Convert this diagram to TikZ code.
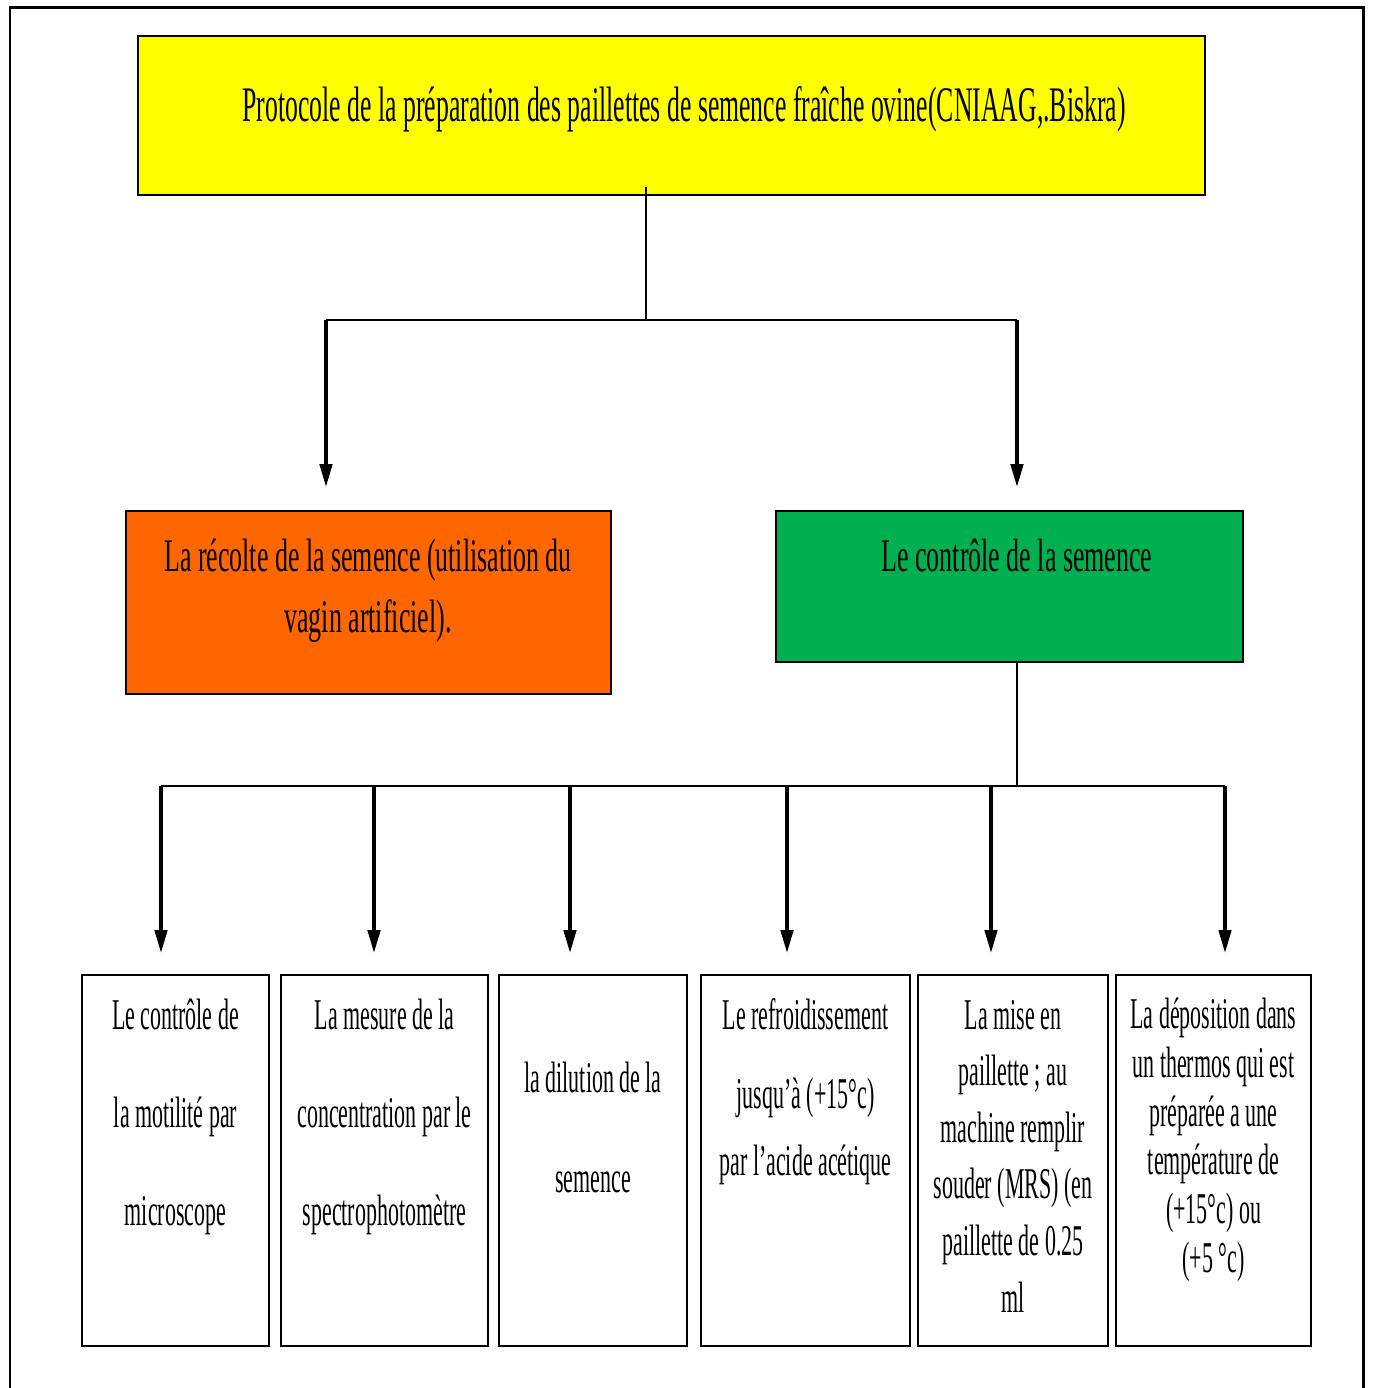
\documentclass[tikz,border=0pt]{standalone}
\usepackage{fontspec}
\setmainfont{Liberation Serif}
\newfontfamily\narrow{Liberation Serif}[FakeStretch=0.5]
\newfontfamily\narrowmid{Liberation Serif}[FakeStretch=0.555]
\newfontfamily\narrowtop{Liberation Serif}[FakeStretch=0.518]
\usetikzlibrary{arrows.meta}
\definecolor{cyellow}{HTML}{FFFF00}
\definecolor{corange}{HTML}{FF6600}
\definecolor{cgreen}{HTML}{00B050}
\begin{document}
\begin{tikzpicture}[x=0.02cm,y=-0.02cm,
  frame/.style={line width=1.7pt},
  boxstyle/.style={draw=black,line width=1.1pt},
  txt/.style={anchor=base,align=center,inner sep=0pt},
  thinconn/.style={line width=0.75pt},
  busline/.style={line width=1.4pt},
  arrconn/.style={line width=2pt,-{Triangle[length=13pt,width=7pt]}},
]
\useasboundingbox (0,0) rectangle (1372,1388);
% outer frame
\draw[frame] (10,1400) -- (10,8) -- (1363,8) -- (1363,1400);

% level 0
\path[boxstyle,fill=cyellow] (138,36) rectangle (1205,195);
\node[txt,font=\narrowtop\fontsize{28.3}{34}\selectfont] (title) at (684,122)
  {Protocole de la préparation des paillettes de semence fraîche ovine(CNIAAG,.Biskra)};
\coordinate (titlebot) at (646,187);

% level 1
\path[boxstyle,fill=corange] (126,511) rectangle (611,694);
\node[txt,font=\narrowmid\fontsize{26.6}{34.6}\selectfont] (recolte) at (368,632)
  {La récolte de la semence (utilisation du\\vagin artificiel).};
\path[boxstyle,fill=cgreen] (776,511) rectangle (1243,662);
\node[txt,font=\narrowmid\fontsize{26.6}{34.6}\selectfont] (controle) at (1017,571)
  {Le contrôle de la semence};
\coordinate (greenbot) at (1017,662);

% level 2 boxes
\path[boxstyle] (82,975) rectangle (269,1346);
\path[boxstyle] (281,975) rectangle (488,1346);
\path[boxstyle] (499,975) rectangle (687,1346);
\path[boxstyle] (701,975) rectangle (910,1346);
\path[boxstyle] (918,975) rectangle (1108,1346);
\path[boxstyle] (1116,975) rectangle (1311,1346);

\node[txt,font=\narrow\fontsize{25}{55.6}\selectfont] (b1) at (175.5,1225)
  {Le contrôle de\\la motilité par\\microscope};
\node[txt,font=\narrow\fontsize{25}{55.6}\selectfont] (b2) at (384.5,1225)
  {La mesure de la\\concentration par le\\spectrophotomètre};
\node[txt,font=\narrow\fontsize{25}{56.7}\selectfont] (b3) at (593,1192)
  {la dilution de la\\semence};
\node[txt,font=\narrow\fontsize{25}{38}\selectfont] (b4) at (805.5,1175)
  {Le refroidissement\\[6.8pt]jusqu’à (+15°c)\\par l’acide acétique};
\node[txt,font=\narrow\fontsize{25}{32.2}\selectfont] (b5) at (1013,1312)
  {La mise en\\paillette ; au\\machine remplir\\souder (MRS) (en\\paillette de 0.25\\ml};
\node[txt,font=\narrow\fontsize{25}{27.7}\selectfont] (b6) at (1213.5,1272)
  {La déposition dans\\un thermos qui est\\préparée a une\\température de\\(+15°c) ou\\(+5 °c)};

% connectors level 1
\coordinate (j1) at (646,320);
\coordinate (a1) at (326,487);
\coordinate (a2) at (1017,487);
\draw[thinconn] (titlebot) -- (j1);
\draw[busline] (a1 |- j1) -- (a2 |- j1);
\draw[arrconn] (a1 |- j1) -- (a1);
\draw[arrconn] (a2 |- j1) -- (a2);

% connectors level 2
\coordinate (j2) at (1017,786);
\coordinate (c1) at (161,953);
\coordinate (c2) at (374,953);
\coordinate (c3) at (570,953);
\coordinate (c4) at (787,953);
\coordinate (c5) at (991,953);
\coordinate (c6) at (1225,953);
\draw[thinconn] (greenbot) -- (j2);
\draw[busline] (c1 |- j2) -- (c6 |- j2);
\foreach \c in {c1,c2,c3,c4,c5,c6}
  \draw[arrconn] (\c |- j2) -- (\c);
\end{tikzpicture}
\end{document}
